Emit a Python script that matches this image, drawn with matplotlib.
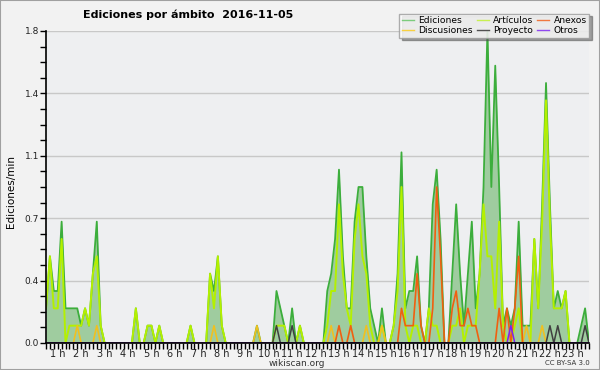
import numpy as np
import matplotlib.pyplot as plt
from matplotlib.lines import Line2D
from matplotlib.patches import Rectangle

# 10-minute bins, first one at 0:30, last one at 23:40
start_hour = 0.5

# edits per minute, one row per hour
ediciones = [0.2, 0.5, 0.3,
             0.3, 0.7, 0.2, 0.2, 0.2, 0.2,
             0.1, 0.2, 0.1, 0.4, 0.7, 0.1,
             0, 0, 0, 0, 0, 0,
             0, 0, 0.2, 0, 0, 0.1,
             0.1, 0, 0.1, 0, 0, 0,
             0, 0, 0, 0, 0.1, 0,
             0, 0, 0, 0.4, 0.3, 0.5,
             0.1, 0, 0, 0, 0, 0,
             0, 0, 0, 0.1, 0, 0,
             0, 0, 0.3, 0.2, 0.1, 0,
             0.2, 0, 0.1, 0, 0, 0,
             0, 0, 0, 0.3, 0.4, 0.6,
             1.0, 0.5, 0.2, 0.2, 0.7, 0.9,
             0.9, 0.5, 0.2, 0.1, 0, 0.2,
             0, 0, 0.1, 0.4, 1.1, 0.2,
             0.3, 0.3, 0.5, 0.1, 0, 0.2,
             0.8, 1.0, 0.6, 0, 0, 0.4,
             0.8, 0.4, 0.1, 0.4, 0.7, 0.2,
             0.4, 0.9, 1.8, 0.9, 1.6, 0.9,
             0.1, 0.2, 0.1, 0.2, 0.7, 0.1,
             0.1, 0.1, 0.6, 0.2, 0.8, 1.5,
             0.8, 0.2, 0.3, 0.2, 0.3, 0,
             0, 0, 0.1, 0.2, 0]

articulos = [0.2, 0.5, 0.2,
             0.2, 0.6, 0, 0.1, 0.1, 0.1,
             0.1, 0.2, 0.1, 0.4, 0.5, 0.1,
             0, 0, 0, 0, 0, 0,
             0, 0, 0.2, 0, 0, 0.1,
             0.1, 0, 0.1, 0, 0, 0,
             0, 0, 0, 0, 0.1, 0,
             0, 0, 0, 0.4, 0.2, 0.5,
             0.1, 0, 0, 0, 0, 0,
             0, 0, 0, 0, 0, 0,
             0, 0, 0.1, 0.1, 0.1, 0,
             0, 0, 0.1, 0, 0, 0,
             0, 0, 0, 0.1, 0.3, 0.3,
             0.8, 0.4, 0.2, 0.1, 0.6, 0.8,
             0.5, 0.4, 0.1, 0, 0, 0.1,
             0, 0, 0.1, 0.3, 0.9, 0.1,
             0, 0.1, 0.1, 0, 0, 0.2,
             0.1, 0.1, 0, 0, 0, 0.1,
             0.1, 0.2, 0, 0.1, 0.1, 0.1,
             0.4, 0.8, 0.5, 0.5, 0.2, 0.7,
             0.1, 0, 0, 0.1, 0.2, 0,
             0, 0, 0.6, 0.2, 0.7, 1.4,
             0.7, 0.2, 0.2, 0.2, 0.3, 0,
             0, 0, 0, 0, 0]

anexos = [0, 0, 0,
          0, 0, 0, 0, 0, 0,
          0, 0, 0, 0, 0, 0,
          0, 0, 0, 0, 0, 0,
          0, 0, 0, 0, 0, 0,
          0, 0, 0, 0, 0, 0,
          0, 0, 0, 0, 0, 0,
          0, 0, 0, 0, 0, 0,
          0, 0, 0, 0, 0, 0,
          0, 0, 0, 0, 0, 0,
          0, 0, 0, 0, 0, 0,
          0, 0, 0, 0, 0, 0,
          0, 0, 0, 0, 0, 0,
          0.1, 0, 0, 0.1, 0, 0,
          0, 0, 0, 0, 0, 0,
          0, 0, 0, 0, 0.2, 0.1,
          0.1, 0.1, 0.4, 0.1, 0, 0,
          0.2, 0.9, 0.5, 0, 0, 0.2,
          0.3, 0.1, 0.1, 0.2, 0.1, 0.1,
          0, 0, 0, 0, 0, 0.2,
          0, 0.2, 0, 0.2, 0.5, 0,
          0, 0, 0, 0, 0, 0,
          0, 0, 0, 0, 0, 0,
          0, 0, 0, 0, 0]

discusiones = [0, 0, 0,
               0, 0, 0, 0, 0, 0.1,
               0, 0, 0, 0, 0.1, 0,
               0, 0, 0, 0, 0, 0,
               0, 0, 0, 0, 0, 0,
               0, 0, 0, 0, 0, 0,
               0, 0, 0, 0, 0, 0,
               0, 0, 0, 0, 0.1, 0,
               0, 0, 0, 0, 0, 0,
               0, 0, 0, 0.1, 0, 0,
               0, 0, 0, 0, 0, 0,
               0, 0, 0, 0, 0, 0,
               0, 0, 0, 0, 0.1, 0,
               0, 0, 0, 0, 0, 0,
               0, 0.1, 0, 0, 0, 0.1,
               0, 0, 0, 0, 0, 0,
               0, 0, 0, 0, 0, 0,
               0, 0, 0, 0, 0, 0,
               0, 0, 0, 0, 0, 0,
               0, 0, 0, 0, 0, 0,
               0, 0, 0, 0, 0, 0,
               0.1, 0, 0, 0, 0.1, 0,
               0, 0, 0, 0, 0, 0,
               0, 0, 0, 0, 0]

proyecto = [0, 0, 0,
            0, 0, 0, 0, 0, 0,
            0, 0, 0, 0, 0, 0,
            0, 0, 0, 0, 0, 0,
            0, 0, 0, 0, 0, 0,
            0, 0, 0, 0, 0, 0,
            0, 0, 0, 0, 0, 0,
            0, 0, 0, 0, 0, 0,
            0, 0, 0, 0, 0, 0,
            0, 0, 0, 0, 0, 0,
            0, 0, 0.1, 0, 0, 0,
            0.1, 0, 0, 0, 0, 0,
            0, 0, 0, 0, 0, 0,
            0, 0, 0, 0, 0, 0,
            0, 0, 0, 0, 0, 0,
            0, 0, 0, 0, 0, 0,
            0, 0, 0, 0, 0, 0,
            0, 0, 0, 0, 0, 0,
            0, 0, 0, 0, 0, 0,
            0, 0, 0, 0, 0, 0,
            0, 0, 0, 0, 0, 0,
            0, 0, 0, 0, 0, 0,
            0.1, 0, 0.1, 0, 0, 0,
            0, 0, 0, 0.1, 0]

otros = [0, 0, 0,
         0, 0, 0, 0, 0, 0,
         0, 0, 0, 0, 0, 0,
         0, 0, 0, 0, 0, 0,
         0, 0, 0, 0, 0, 0,
         0, 0, 0, 0, 0, 0,
         0, 0, 0, 0, 0, 0,
         0, 0, 0, 0, 0, 0,
         0, 0, 0, 0, 0, 0,
         0, 0, 0, 0, 0, 0,
         0, 0, 0, 0, 0, 0,
         0, 0, 0, 0, 0, 0,
         0, 0, 0, 0, 0, 0,
         0, 0, 0, 0, 0, 0,
         0, 0, 0, 0, 0, 0,
         0, 0, 0, 0, 0, 0,
         0, 0, 0, 0, 0, 0,
         0, 0, 0, 0, 0, 0,
         0, 0, 0, 0, 0, 0,
         0, 0, 0, 0, 0, 0,
         0, 0, 0.1, 0, 0, 0,
         0, 0, 0, 0, 0, 0,
         0, 0, 0, 0, 0, 0,
         0, 0, 0, 0, 0]

hour_ticks = list(range(1, 24))
hour_labels = ['%d h' % h for h in hour_ticks]
y_ticks = [0, 0.36, 0.72, 1.08, 1.44, 1.8]
y_labels = ['0.0', '0.4', '0.7', '1.1', '1.4', '1.8']

t = start_hour + np.arange(len(ediciones)) / 6.0

fig = plt.figure(figsize=(6, 3.7), dpi=100, facecolor='#f2f2f2')
ax = fig.add_axes([46/600, 27/370, 543/600, 312/370])
ax.set_facecolor('#eeeff1')

ax.fill_between(t, ediciones, 0, color='#9fcc9f', lw=0, zorder=1)
ax.plot(t, ediciones, color='#3cae3c', lw=1.3, zorder=2)
ax.plot(t, articulos, color='#b4f000', lw=1.4, zorder=2)
ax.plot(t, discusiones, color='#f0c020', lw=1.2, zorder=2)
ax.plot(t, anexos, color='#f06010', lw=1.2, zorder=2)
ax.plot(t, proyecto, color='#404040', lw=1.1, zorder=2)
ax.plot(t, otros, color='#8020f0', lw=1.1, zorder=2)

ax.set_xlim(t[0], t[-1])
ax.set_ylim(0, 1.8)
ax.set_xticks(hour_ticks)
ax.set_xticklabels(hour_labels)
ax.set_xticks(t, minor=True)
ax.set_yticks(y_ticks)
ax.set_yticklabels(y_labels)
ax.set_yticks(np.arange(0, 1.81, 0.09), minor=True)
ax.yaxis.grid(True, color='#c8c8c8', lw=1)
ax.set_axisbelow(True)

for s in ['top', 'right']:
    ax.spines[s].set_visible(False)
for s in ['left', 'bottom']:
    ax.spines[s].set_color('black')
    ax.spines[s].set_linewidth(1.2)
    ax.spines[s].set_zorder(3)
ax.tick_params(axis='both', which='both', direction='out', length=4,
               width=1, color='black', labelcolor='#222222')
ax.tick_params(axis='x', labelsize=7, pad=0.5)
ax.tick_params(axis='y', labelsize=6.5, pad=1)

fig.text(188/600, 1 - 15/370, 'Ediciones por ámbito  2016-11-05',
         ha='center', va='center', fontsize=8, fontweight='bold')
fig.text(11/600, 1 - 192/370, 'Ediciones/min', rotation=90,
         ha='center', va='center', fontsize=7.5)
fig.text(297/600, 1 - 363/370, 'wikiscan.org', ha='center', va='center',
         fontsize=6.5, color='#333333')
fig.text(590/600, 1 - 363/370, 'CC BY-SA 3.0', ha='right', va='center',
         fontsize=5, color='#333333')

names = ['Ediciones', 'Discusiones', 'Artículos', 'Proyecto', 'Anexos', 'Otros']
colors = ['#7ccc7c', '#f8d040', '#c8f050', '#505050', '#f07840', '#9048f0']
handles = [Line2D([], [], color=c, lw=1) for c in colors]
fig.legend(handles, names, loc='upper right', bbox_to_anchor=(594/600, 1 - 9/370),
           ncol=3, fontsize=6.6, fancybox=False, shadow=True, framealpha=0.8,
           edgecolor='#999999', handlelength=1.3, columnspacing=0.4,
           handletextpad=0.5, borderpad=0.3, labelspacing=0.05)

fig.patches.append(Rectangle((0, 0), 1, 1, transform=fig.transFigure,
                             fill=False, edgecolor='#a0a0a0', lw=1.5))

fig.savefig('out.png', dpi=100, facecolor=fig.get_facecolor())
